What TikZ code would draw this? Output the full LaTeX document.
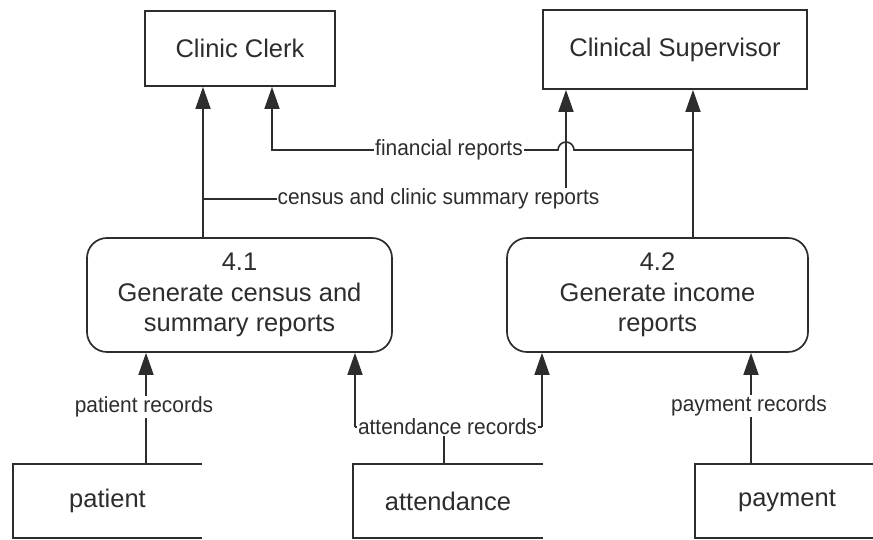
\documentclass[tikz,border=0pt]{standalone}
\usepackage{fontspec}
\setmainfont{Liberation Sans}
\newfontfamily\lblfont[FakeStretch=0.95]{Liberation Sans}
\usetikzlibrary{arrows.meta}
\definecolor{ink}{RGB}{45,45,45}
\tikzset{
  ext/.style={draw=ink, line width=1.7pt, text=ink, font=\fontsize{25.5}{30}\selectfont, inner sep=0pt},
  proc/.style={ext, rounded corners=20pt, align=center, font=\fontsize{25.5}{30.5}\selectfont},
  storebox/.style={text=ink, font=\fontsize{25.5}{30}\selectfont, inner sep=0pt},
  flow/.style={draw=ink, line width=1.6pt, -{Triangle[length=22pt,width=15pt]}},
  plain/.style={draw=ink, line width=1.6pt},
  lbl/.style={fill=white, text=ink, inner sep=1pt, font=\lblfont\fontsize{22}{24}\selectfont}
}
\begin{document}
\begin{tikzpicture}[x=1pt,y=1pt]
\useasboundingbox (0,0) rectangle (873,540);
% external entities
\node[ext, minimum width=190pt, minimum height=75pt] (cc) at (240,491.5) {Clinic Clerk};
\node[ext, minimum width=264pt, minimum height=79pt] (cs) at (675,490.5) {Clinical Supervisor};
% processes
\node[proc, minimum width=305pt, minimum height=114pt] (p41) at (239.5,245) {4.1\\Generate census and\\summary reports};
\node[proc, minimum width=301pt, minimum height=114pt] (p42) at (657.5,245) {4.2\\Generate income\\reports};
% data stores
\node[storebox, minimum width=189pt, minimum height=74pt] (ps) at (107.5,39) {patient};
\node[storebox, minimum width=190pt, minimum height=74pt] (as) at (448,39) {attendance};
\node[storebox, minimum width=184pt, minimum height=74pt] (pay) at (787,39) {payment};
\foreach \s in {ps,as,pay}
  \draw[draw=ink, line width=1.7pt] (\s.north east) -- (\s.north west) -- (\s.south west) -- (\s.south east);
% lanes
\coordinate (xa) at (203,0);
\coordinate (xb) at (272,0);
\coordinate (xc) at (566,0);
\coordinate (xd) at (693,0);
\coordinate (yc) at (0,341);
\coordinate (yf) at (0,390);
\coordinate (xp) at (146,0);
\coordinate (xl) at (355,0);
\coordinate (xm) at (444,0);
\coordinate (xr) at (542,0);
\coordinate (xq) at (751,0);
\coordinate (ya) at (0,113);
% upper flows
\draw[flow] (p41.north -| xa) -- (cc.south -| xa);
\draw[flow] (xa |- yc) -- (xc |- yc) -- (cs.south -| xc);
\draw[flow] (p42.north -| xd) -- (cs.south -| xd);
\draw[flow] (xd |- yf) -- ([xshift=8pt]xc |- yf) arc[start angle=0, end angle=180, radius=8] -- (xb |- yf) -- (cc.south -| xb);
\node[lbl] (lc) at (438.5,341) {census and clinic summary reports};
\node[lbl] (lf) at (449,390) {financial reports};
% lower flows
\draw[flow] (ps.north -| xp) -- (p41.south -| xp);
\draw[plain] (as.north -| xm) -- (xm |- ya);
\draw[flow] (xl |- ya) -- (p41.south -| xl);
\draw[flow] (xr |- ya) -- (p42.south -| xr);
\draw[plain] (xl |- ya) -- (xr |- ya);
\draw[flow] (pay.north -| xq) -- (p42.south -| xq);
\node[lbl] (lp) at (144,133) {patient records};
\node[lbl] (la) at (447.5,113) {attendance records};
\node[lbl] (lq) at (749,134) {payment records};
\end{tikzpicture}
\end{document}
